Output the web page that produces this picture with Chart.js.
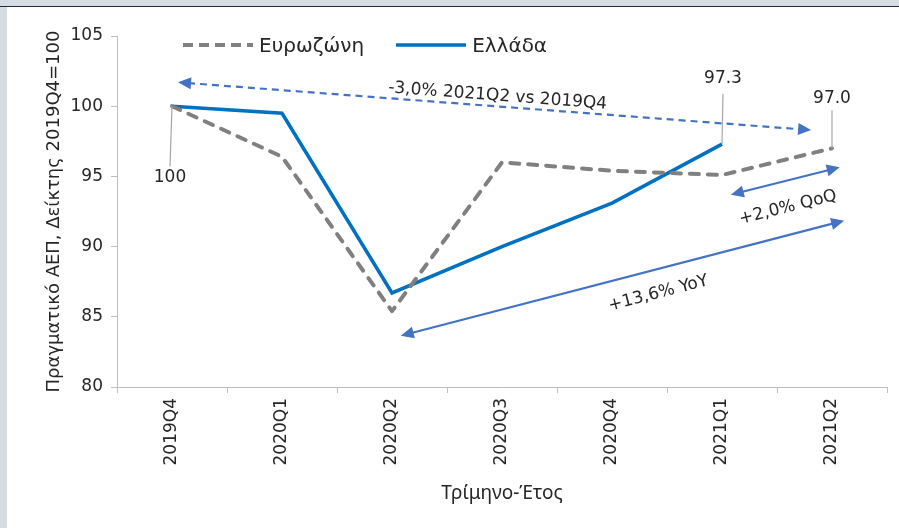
<!DOCTYPE html>
<html lang="el">
<head>
<meta charset="utf-8">
<script src="https://cdn.jsdelivr.net/npm/chart.js@4.4.0/dist/chart.umd.min.js"></script>
<style>
  html, body { margin: 0; padding: 0; background: #fff; }
  body { width: 899px; height: 528px; position: relative; overflow: hidden; font-family: "DejaVu Sans", sans-serif; }
  .frame-top { position: absolute; left: 0; top: 0; width: 899px; height: 6px; background: #d6dce4; border-bottom: 1px solid #1f2a44; }
  .frame-left { position: absolute; left: 0; top: 7px; width: 7px; height: 521px; background: #d6dce4; }
  #wrap { position: absolute; left: 0; top: 0; width: 899px; height: 528px; }
  #legend { position: absolute; left: 181px; top: 33px; display: flex; align-items: center; font-size: 20px; color: #262626; }
  #legend .item { display: flex; align-items: center; margin-right: 30px; }
  #legend svg { margin-right: 4px; }
</style>
</head>
<body>
<div id="wrap"><canvas id="chart" width="899" height="528"></canvas></div>
<div class="frame-top"></div>
<div class="frame-left"></div>
<div id="legend"></div>
<script>
// Δεδομένα: Πραγματικό ΑΕΠ, δείκτης 2019Q4=100
const quarters = ['2019Q4', '2020Q1', '2020Q2', '2020Q3', '2020Q4', '2021Q1', '2021Q2'];
const eurozone = [100, 96.4, 85.4, 96.0, 95.4, 95.1, 97.0];
const greece = [100, 99.5, 86.7, 90.0, 93.1, 97.3, null];
const seriesNames = ['Ευρωζώνη', 'Ελλάδα'];
const yTicks = [80, 85, 90, 95, 100, 105];

// ετικέτες τιμών (σειρά, σημείο)
const valueLabels = [
  { series: 1, index: 0, dy: 71, lead: [-2, 60] },
  { series: 1, index: 5, dy: -66, lead: [1, -50] },
  { series: 0, index: 6, dy: -50, lead: [0, -38] }
];

// βέλη σχολιασμού σε συντεταγμένες δεδομένων [δείκτης κατηγορίας, τιμή]
const arrows = [
  { from: [0.055, 101.7], to: [5.81, 98.3], dash: [7, 5], text: '-3,0% 2021Q2 vs 2019Q4', at: [2.96, 100.72] },
  { from: [5.08, 93.7], to: [6.07, 95.65], dash: [], text: '+2,0% QoQ', at: [5.6, 92.78] },
  { from: [2.08, 83.65], to: [6.11, 91.85], dash: [], text: '+13,6% YoY', at: [4.42, 86.66] }
];

const FONT = '"DejaVu Sans", sans-serif';
const TEXT = '#262626';
const AXIS = '#bfbfbf';
const ARROW = '#4472c4';

function fmt(v) {
  return v === 100 ? '100' : v.toFixed(1);
}

function head(ctx, x, y, ang) {
  const len = 13, hw = 6;
  ctx.beginPath();
  ctx.moveTo(x, y);
  ctx.lineTo(x - len * Math.cos(ang) + hw * Math.sin(ang), y - len * Math.sin(ang) - hw * Math.cos(ang));
  ctx.lineTo(x - len * Math.cos(ang) - hw * Math.sin(ang), y - len * Math.sin(ang) + hw * Math.cos(ang));
  ctx.closePath();
  ctx.fill();
}

const annotations = {
  id: 'annotations',
  afterDatasetsDraw(chart) {
    const { ctx, scales: { x, y } } = chart;
    ctx.save();
    ctx.font = '17px ' + FONT;

    // Βέλη + κείμενα
    arrows.forEach(a => {
      const x1 = x.getPixelForValue(a.from[0]), y1 = y.getPixelForValue(a.from[1]);
      const x2 = x.getPixelForValue(a.to[0]), y2 = y.getPixelForValue(a.to[1]);
      const ang = Math.atan2(y2 - y1, x2 - x1);
      const cut = 10;
      ctx.strokeStyle = ARROW;
      ctx.fillStyle = ARROW;
      ctx.lineWidth = 2.2;
      ctx.setLineDash(a.dash);
      ctx.beginPath();
      ctx.moveTo(x1 + cut * Math.cos(ang), y1 + cut * Math.sin(ang));
      ctx.lineTo(x2 - cut * Math.cos(ang), y2 - cut * Math.sin(ang));
      ctx.stroke();
      ctx.setLineDash([]);
      head(ctx, x2, y2, ang);
      head(ctx, x1, y1, ang + Math.PI);

      ctx.save();
      ctx.translate(x.getPixelForValue(a.at[0]), y.getPixelForValue(a.at[1]));
      ctx.rotate(ang);
      ctx.fillStyle = TEXT;
      ctx.textAlign = 'center';
      ctx.textBaseline = 'middle';
      ctx.fillText(a.text, 0, 0);
      ctx.restore();
    });

    // Ετικέτες τιμών με γραμμές οδηγούς
    valueLabels.forEach(l => {
      const pt = chart.getDatasetMeta(l.series).data[l.index];
      const v = chart.data.datasets[l.series].data[l.index];
      ctx.strokeStyle = '#a6a6a6';
      ctx.lineWidth = 1.2;
      ctx.beginPath();
      ctx.moveTo(pt.x, pt.y);
      ctx.lineTo(pt.x + l.lead[0], pt.y + l.lead[1]);
      ctx.stroke();
      ctx.fillStyle = TEXT;
      ctx.textAlign = 'center';
      ctx.textBaseline = 'middle';
      ctx.fillText(fmt(v), pt.x + l.lead[0], pt.y + l.dy);
    });
    ctx.restore();
  }
};

const chart = new Chart(document.getElementById('chart'), {
  type: 'line',
  data: {
    labels: quarters,
    datasets: [
      {
        label: seriesNames[0],
        data: eurozone,
        borderColor: '#808080',
        borderWidth: 4,
        borderDash: [9, 9],
        borderCapStyle: 'round',
        borderJoinStyle: 'round',
        pointRadius: 0,
        tension: 0
      },
      {
        label: seriesNames[1],
        data: greece,
        borderColor: '#0070c0',
        borderWidth: 3.5,
        borderJoinStyle: 'miter',
        pointRadius: 0,
        tension: 0
      }
    ]
  },
  options: {
    responsive: false,
    animation: false,
    layout: { padding: { top: 36, right: 12, left: 0, bottom: 0 } },
    plugins: {
      legend: { display: false },
      tooltip: { enabled: false }
    },
    scales: {
      x: {
        offset: true,
        grid: { offset: true, drawOnChartArea: false, tickLength: 6, color: AXIS },
        border: { color: AXIS, width: 1 },
        ticks: { minRotation: 90, maxRotation: 90, autoSkip: false, padding: 5, color: TEXT, font: { family: FONT, size: 17 } },
        title: { display: true, text: 'Τρίμηνο-Έτος', color: TEXT, font: { family: '"Noto Sans", sans-serif', size: 19 }, padding: { bottom: 23 } },
        afterFit: s => { s.height = 141; }
      },
      y: {
        min: yTicks[0],
        max: yTicks[yTicks.length - 1],
        afterBuildTicks: s => { s.ticks = yTicks.map(v => ({ value: v })); },
        grid: { drawOnChartArea: false, tickLength: 6, color: AXIS },
        border: { color: AXIS, width: 1 },
        ticks: { padding: 8, color: TEXT, font: { family: FONT, size: 17 } },
        title: { display: true, text: 'Πραγματικό ΑΕΠ, Δείκτης 2019Q4=100', color: TEXT, font: { family: FONT, size: 18 }, padding: { top: 44 } },
        afterFit: s => { s.width = 117; }
      }
    }
  },
  plugins: [annotations]
});

// Υπόμνημα
document.getElementById('legend').innerHTML = chart.data.datasets.map(d => {
  const dash = d.borderDash ? 'stroke-dasharray="10 6"' : '';
  return `<div class="item"><svg width="74" height="8"><line x1="2" y1="4" x2="72" y2="4" stroke="${d.borderColor}" stroke-width="${d.borderWidth}" ${dash}/></svg><span>${d.label}</span></div>`;
}).join('');
</script>
</body>
</html>
